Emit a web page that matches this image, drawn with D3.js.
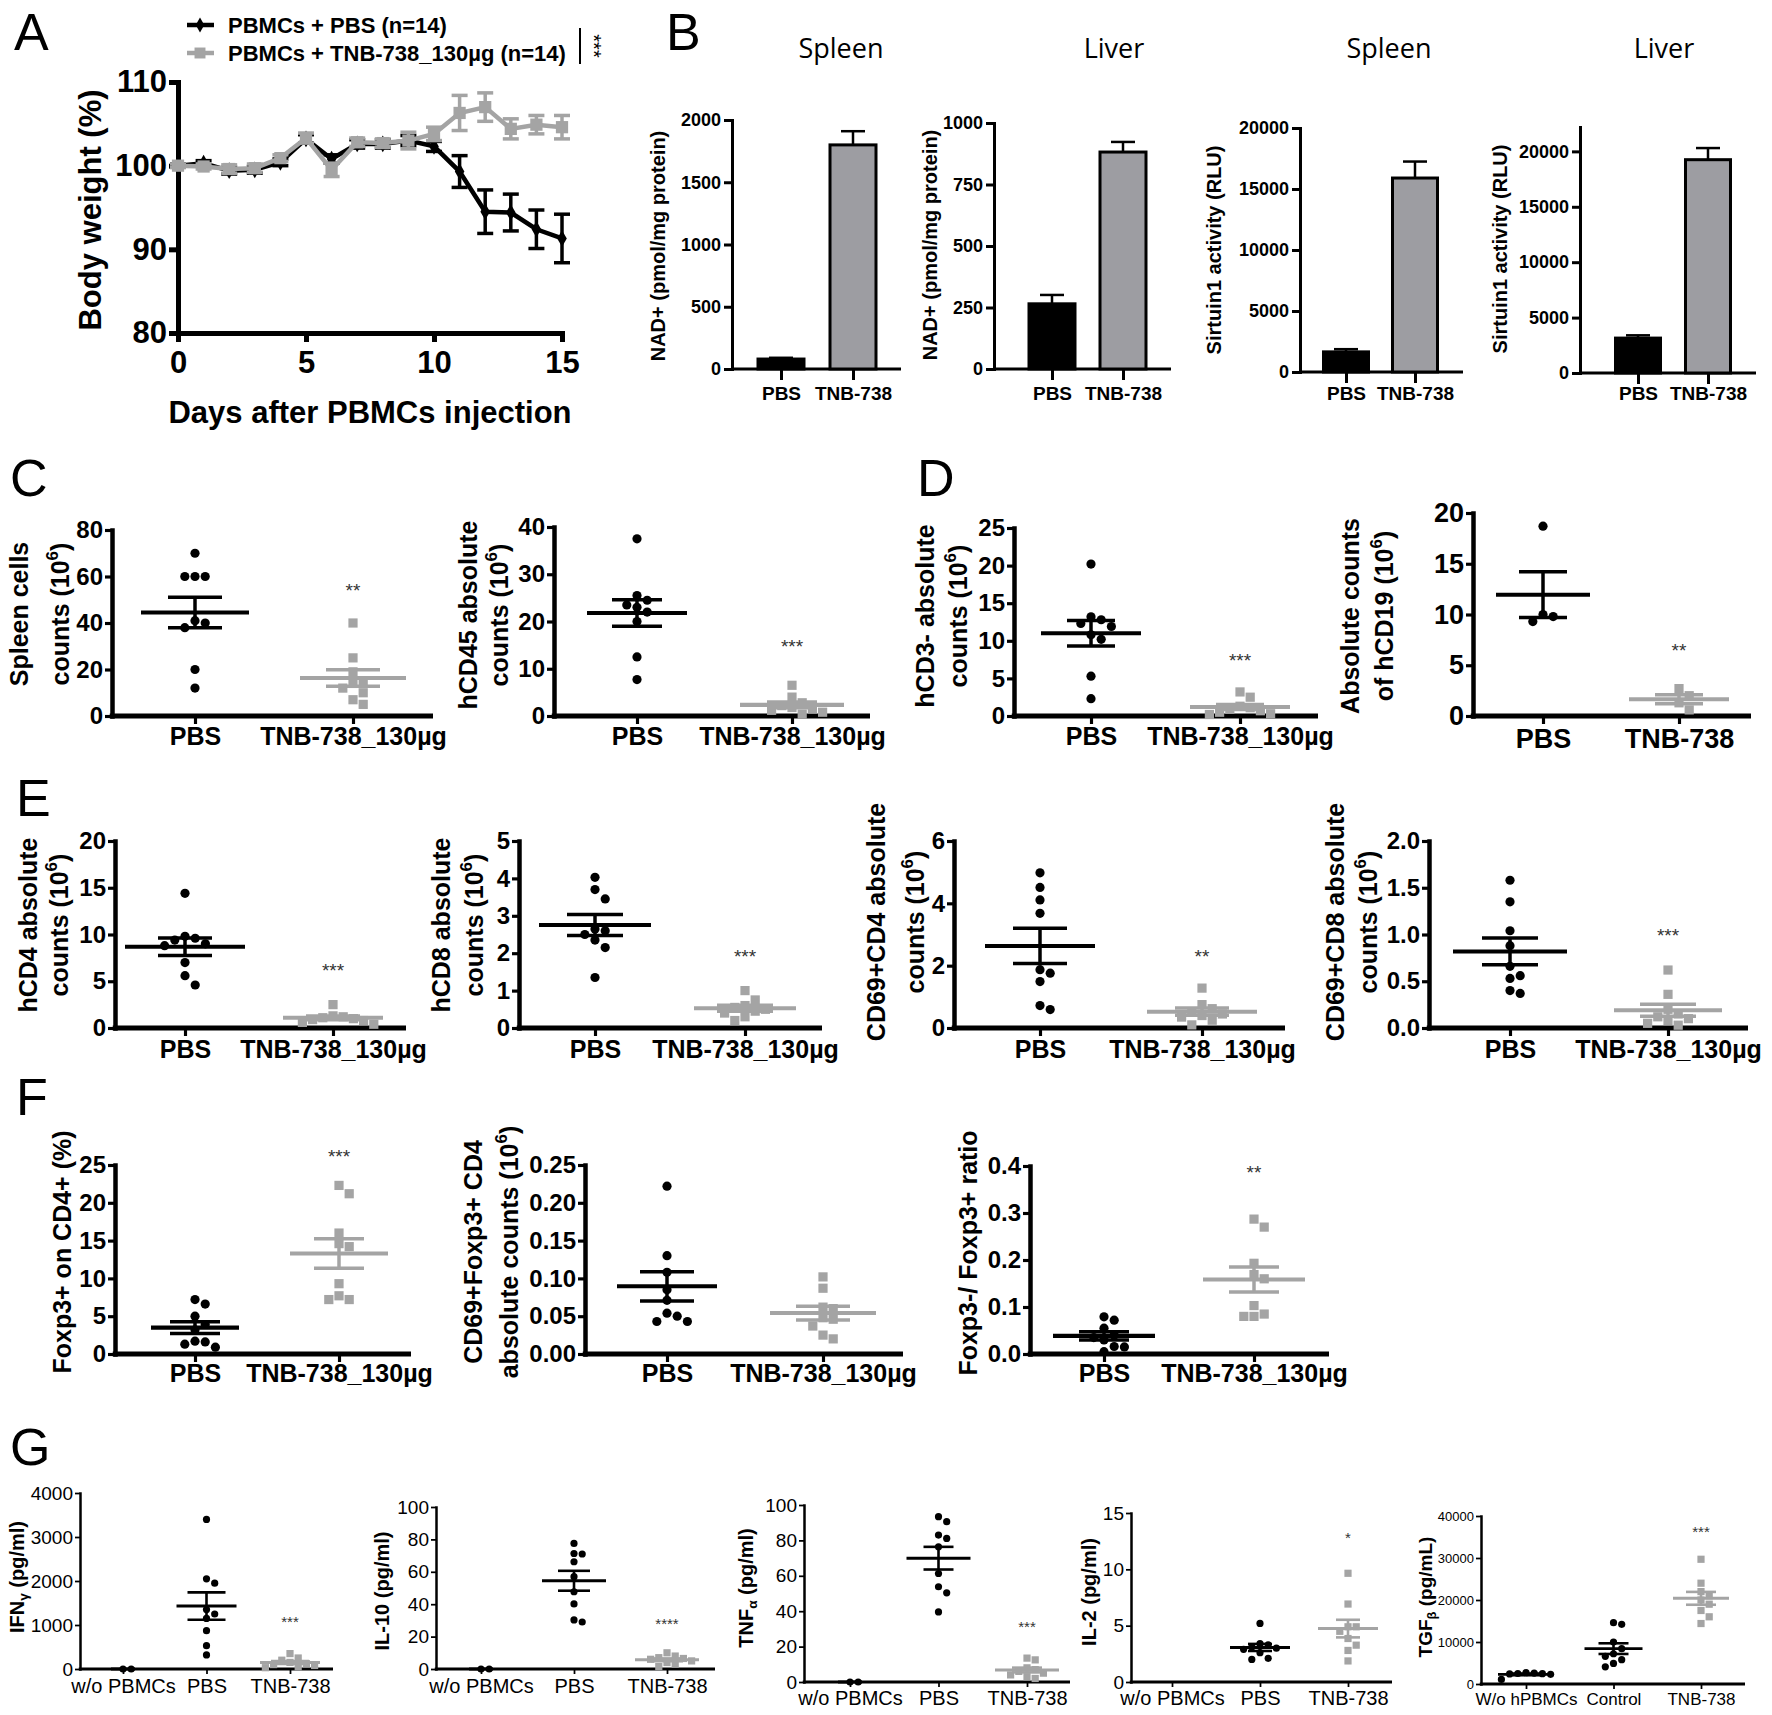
<!DOCTYPE html>
<html>
<head>
<meta charset="utf-8">
<script src="https://cdn.jsdelivr.net/npm/d3@7"></script>
<style>
  body { margin: 0; background: #fff; }
  svg { display: block; background: #fff; }
</style>
</head>
<body>
<svg id="fig" width="1772" height="1715"></svg>
<script>
// ---- A: body weight ----
const days = d3.range(0, 16);
const pbsWeight = [100, 100.3, 99.4, 99.5, 100.4, 103.2, 100.8, 102.6, 102.6, 103.0, 102.3, 99.3, 94.5, 94.4, 92.4, 91.3];
const pbsWeightSem = [0.2, 0.3, 0.4, 0.4, 0.4, 0.5, 0.5, 0.5, 0.5, 0.6, 0.6, 1.9, 2.6, 2.2, 2.3, 2.9];
const tnbWeight = [100, 99.9, 99.6, 99.7, 100.9, 103.3, 99.5, 102.8, 102.7, 103.0, 103.8, 106.3, 107.0, 104.4, 104.9, 104.6];
const tnbWeightSem = [0.2, 0.3, 0.5, 0.5, 0.4, 0.6, 0.8, 0.5, 0.5, 1.0, 0.8, 2.1, 1.7, 1.2, 1.1, 1.4];
const legendA = ['PBMCs + PBS (n=14)', 'PBMCs + TNB-738_130\u00b5g (n=14)'];

// ---- B: bars ----
const barGroups = ['PBS', 'TNB-738'];
const nadSpleen = [80, 1800], nadSpleenSem = [10, 110];
const nadLiver = [265, 882], nadLiverSem = [36, 41];
const sirtSpleen = [1650, 15900], sirtSpleenSem = [220, 1350];
const sirtLiver = [3150, 19250], sirtLiverSem = [250, 1050];

// ---- C-F: scatter groups ----
const twoGroups = ['PBS', 'TNB-738_130\u00b5g'];
const spleenPBS = [70, 60, 60, 60, 41, 40, 38, 20, 12];
const spleenTNB = [40, 25, 19, 15, 14, 12, 10, 7, 5];
const cd45PBS = [37.5, 25.5, 24.5, 23.5, 23, 22, 20, 12.5, 7.7];
const cd45TNB = [6.5, 4, 2.8, 2.2, 1.8, 1.5, 1.2, 0.8, 0.4];
const cd3negPBS = [20.2, 13.2, 12.8, 12.3, 11.9, 10.8, 10.2, 5.3, 2.3];
const cd3negTNB = [3.2, 2.5, 1.3, 1.1, 0.9, 0.7, 0.5, 0.3, 0.2];
const cd19PBS = [18.7, 10, 9.8, 9.3];
const cd19TNB = [2.7, 2.0, 1.3, 0.6];
const cd4PBS = [14.4, 9.8, 9.6, 9.4, 9.0, 8.8, 7.0, 5.6, 4.6];
const cd4TNB = [2.5, 1.3, 1.2, 1.1, 1.0, 0.9, 0.8, 0.6, 0.4];
const cd8PBS = [4.03, 3.7, 3.45, 2.65, 2.6, 2.5, 2.35, 2.15, 1.35];
const cd8TNB = [1.0, 0.75, 0.6, 0.55, 0.5, 0.45, 0.4, 0.3, 0.2];
const cd69cd4PBS = [4.98, 4.51, 4.11, 3.68, 1.87, 1.76, 1.49, 0.72, 0.59];
const cd69cd4TNB = [1.28, 0.75, 0.62, 0.52, 0.45, 0.4, 0.35, 0.25, 0.1];
const cd69cd8PBS = [1.58, 1.35, 1.04, 0.88, 0.66, 0.56, 0.53, 0.40, 0.37];
const cd69cd8TNB = [0.62, 0.36, 0.2, 0.15, 0.12, 0.1, 0.08, 0.05, 0.03];
const foxp3PBS = [7.2, 6.6, 5.0, 3.9, 3.2, 1.7, 1.6, 1.3, 0.9];
const foxp3TNB = [22.3, 21.2, 16, 14.6, 14.2, 9.3, 7.7, 7.2, 7.2];
const tregPBS = [0.222, 0.13, 0.108, 0.085, 0.071, 0.054, 0.05, 0.043, 0.043];
const tregTNB = [0.102, 0.087, 0.062, 0.06, 0.046, 0.048, 0.037, 0.025, 0.02];
const ratioPBS = [0.079, 0.072, 0.055, 0.04, 0.035, 0.03, 0.016, 0.015, 0.005];
const ratioTNB = [0.287, 0.27, 0.193, 0.169, 0.16, 0.103, 0.085, 0.08, 0.08];

// ---- G: cytokines ----
const threeGroups = ['w/o PBMCs', 'PBS', 'TNB-738'];
const tgfGroups = ['W/o hPBMCs', 'Control', 'TNB-738'];
const ifngNone = [0, 0];
const ifngPBS = [3400, 2050, 1950, 1350, 1250, 1150, 870, 530, 320];
const ifngTNB = [350, 250, 200, 150, 120, 100, 80, 50, 30];
const il10None = [0, 0];
const il10PBS = [77.5, 71.3, 71, 66.2, 57, 47.7, 40.2, 30.3, 29];
const il10TNB = [10, 8, 7, 6.5, 6, 5, 4, 3, 1.5];
const tnfNone = [0, 0];
const tnfPBS = [93.4, 90.6, 83, 81.1, 76.4, 61.3, 53.8, 50.4, 39.6];
const tnfTNB = [13.5, 12.5, 8, 7, 6, 5, 4, 3, 2];
const il2None = [];
const il2PBS = [5.2, 3.4, 3.3, 3.1, 3.0, 2.9, 2.6, 2.1, 2.0];
const il2TNB = [9.65, 6.92, 4.9, 4.9, 4.5, 3.86, 3.27, 2.8, 1.87];
const tgfNone = [2700, 2600, 2500, 2450, 2400, 2300, 1100];
const tgfControl = [14600, 14200, 10000, 8400, 7200, 6600, 5800, 4900, 4100];
const tgfTNB = [29700, 24000, 22000, 21000, 20000, 19000, 17500, 16000, 14400];

const svg = d3.select('#fig');
const FONT = '"Liberation Sans", Arial, Helvetica, sans-serif';
const GRAY = '#a4a4a4';
const BARGRAY = '#9d9da2';

// text with ^x superscript and _x subscript markers
function richText(t, str, size) {
  let back = 0;
  str.split(/([\^_].)/).forEach(p => {
    if (!p) return;
    if (p[0] === '^' || p[0] === '_') {
      const d = p[0] === '^' ? -0.42 * size : 0.22 * size;
      t.append('tspan').attr('dy', d).attr('font-size', size * 0.68).text(p[1]);
      back = -d;
    } else {
      const s = t.append('tspan').text(p);
      if (back) s.attr('dy', back);
      back = 0;
    }
  });
}

function vLabel(g, cx, cy, str, size, weight) {
  const t = g.append('text')
    .attr('transform', `translate(${cx + 0.35 * size},${cy}) rotate(-90)`)
    .attr('text-anchor', 'middle')
    .attr('font-family', FONT)
    .attr('font-size', size)
    .attr('font-weight', weight || 'bold');
  richText(t, str, size);
}

function styleAxis(a, width, size, weight) {
  a.attr('font-family', FONT).attr('font-size', size).attr('font-weight', weight);
  a.selectAll('path, line').attr('stroke', '#000').attr('stroke-width', width);
  a.select('.domain').attr('stroke-linecap', 'square');
  a.selectAll('text').attr('fill', '#000');
}

// panel letters
[['A', 14, 50], ['B', 666, 50], ['C', 10, 496], ['D', 917, 496], ['E', 16, 816], ['F', 16, 1115], ['G', 10, 1465]]
  .forEach(([l, x, y]) => svg.append('text').attr('x', x).attr('y', y)
    .attr('font-family', FONT).attr('font-size', 52).text(l));

// ---------------- Panel A ----------------
function weightChart() {
  const g = svg.append('g');
  const x = d3.scaleLinear().domain([0, 15]).range([178, 562]);
  const y = d3.scaleLinear().domain([80, 110]).range([333, 82]);

  const ax = g.append('g').attr('transform', 'translate(0,333)')
    .call(d3.axisBottom(x).tickValues([0, 5, 10, 15]).tickSize(9).tickSizeOuter(0));
  const ay = g.append('g').attr('transform', 'translate(178,0)')
    .call(d3.axisLeft(y).tickValues([80, 90, 100, 110]).tickSize(9).tickPadding(2).tickSizeOuter(0));
  styleAxis(ax, 5, 31, 'bold');
  styleAxis(ay, 5, 31, 'bold');
  ax.selectAll('text').attr('y', 40).attr('dy', null);

  const series = [
    { mean: pbsWeight, sem: pbsWeightSem, color: '#000', shape: d3.symbolDiamond, size: 80 },
    { mean: tnbWeight, sem: tnbWeightSem, color: GRAY, shape: d3.symbolSquare, size: 150 }
  ];
  series.forEach(s => {
    const pts = days.map((d, i) => ({ d, m: s.mean[i], e: s.sem[i] }));
    g.append('path').datum(pts)
      .attr('d', d3.line().x(p => x(p.d)).y(p => y(p.m)))
      .attr('fill', 'none').attr('stroke', s.color).attr('stroke-width', 4.5);
    const eb = g.append('g').attr('stroke', s.color).attr('stroke-width', 3.5);
    pts.forEach(p => {
      const cx = x(p.d), lo = y(p.m - p.e), hi = y(p.m + p.e);
      eb.append('line').attr('x1', cx).attr('x2', cx).attr('y1', lo).attr('y2', hi);
      [lo, hi].forEach(yy => eb.append('line').attr('x1', cx - 8).attr('x2', cx + 8).attr('y1', yy).attr('y2', yy));
    });
    g.append('g').selectAll('path').data(pts).join('path')
      .attr('transform', p => `translate(${x(p.d)},${y(p.m)})`)
      .attr('d', d3.symbol(s.shape, s.size)())
      .attr('fill', s.color);
  });

  // legend
  const lg = g.append('g');
  series.forEach((s, i) => {
    const ly = 25 + i * 28;
    lg.append('line').attr('x1', 187).attr('x2', 214).attr('y1', ly).attr('y2', ly)
      .attr('stroke', s.color).attr('stroke-width', 4.5);
    lg.append('path').attr('transform', `translate(200,${ly})`)
      .attr('d', d3.symbol(s.shape, s.size * 0.8)()).attr('fill', s.color);
    lg.append('text').attr('x', 228).attr('y', ly + 8)
      .attr('font-family', FONT).attr('font-size', 22).attr('font-weight', 'bold')
      .text(legendA[i]);
  });
  lg.append('line').attr('x1', 580).attr('x2', 580).attr('y1', 28).attr('y2', 64)
    .attr('stroke', '#000').attr('stroke-width', 2);
  lg.append('text').attr('transform', 'translate(587,46) rotate(90)')
    .attr('text-anchor', 'middle').attr('font-family', FONT).attr('font-size', 20).text('***');

  vLabel(g, 90, 210, 'Body weight (%)', 31, 'bold');
  g.append('text').attr('x', 370).attr('y', 423).attr('text-anchor', 'middle')
    .attr('font-family', FONT).attr('font-size', 31).attr('font-weight', 'bold')
    .text('Days after PBMCs injection');
}

// ---------------- Panel B ----------------
function barChart(c) {
  const g = svg.append('g');
  const y = d3.scaleLinear().domain(c.domain).range([c.y0, c.yTop]);
  const x = d3.scalePoint().domain(barGroups).range(c.xs);

  const ay = g.append('g').attr('transform', `translate(${c.x0},0)`)
    .call(d3.axisLeft(y).tickValues(c.ticks).tickFormat(d3.format('d'))
      .tickSize(8).tickPadding(3).tickSizeOuter(0));
  styleAxis(ay, 3, 18, 'bold');
  const ax = g.append('g').attr('transform', `translate(0,${c.y0})`)
    .call(d3.axisBottom(x).tickSize(11).tickSizeOuter(0));
  ax.select('.domain').remove();
  styleAxis(ax, 3, 19, 'bold');
  ax.selectAll('text').attr('y', 400 - c.y0).attr('dy', null);
  g.append('line').attr('x1', c.x0).attr('x2', c.xEnd).attr('y1', c.y0).attr('y2', c.y0)
    .attr('stroke', '#000').attr('stroke-width', 3);

  barGroups.forEach((k, i) => {
    const cx = x(k), v = c.values[i], e = c.sems[i];
    g.append('line').attr('x1', cx).attr('x2', cx).attr('y1', y(v)).attr('y2', y(v + e))
      .attr('stroke', '#000').attr('stroke-width', 2.5);
    g.append('line').attr('x1', cx - 12).attr('x2', cx + 12).attr('y1', y(v + e)).attr('y2', y(v + e))
      .attr('stroke', '#000').attr('stroke-width', 2.5);
    g.append('rect').attr('x', cx - c.barW / 2).attr('width', c.barW)
      .attr('y', y(v)).attr('height', c.y0 - y(v))
      .attr('fill', i === 0 ? '#000' : BARGRAY).attr('stroke', '#000').attr('stroke-width', 3);
  });

  vLabel(g, c.labX, c.labY, c.ylabel, 20, 'bold');
  g.append('text').attr('x', c.titleX).attr('y', 58).attr('text-anchor', 'middle')
    .attr('font-family', '"Open Sans", "Liberation Sans", sans-serif').attr('font-size', 27)
    .text(c.title);
}

// ---------------- Scatter (C-G) ----------------
function swarm(vals, y, cx, d) {
  const placed = [];
  vals.slice().sort((a, b) => b - a).forEach(v => {
    const py = y(v);
    for (let k = 0; ; k++) {
      const off = Math.ceil(k / 2) * (k % 2 ? 1 : -1) * d;
      if (!placed.some(q => Math.abs(q.x - cx - off) < d - 0.1 && Math.abs(q.y - py) < d - 0.1)) {
        placed.push({ x: cx + off, y: py, v });
        break;
      }
    }
  });
  return placed;
}

function dotChart(c) {
  const g = svg.append('g');
  const tickFont = c.tickFont || 24, labFont = c.labFont || 25;
  const axisW = c.axisW || 4.5, weight = c.weight || 'bold';
  const y = d3.scaleLinear().domain(c.domain).range([c.y0, c.yTop]);
  const x = d3.scalePoint().domain(c.cats).range(c.xs);
  const colors = c.colors || ['#000', GRAY];

  const ay = g.append('g').attr('transform', `translate(${c.x0},0)`)
    .call(d3.axisLeft(y).tickValues(c.ticks).tickFormat(d3.format(c.fmt || 'd'))
      .tickSize(c.tickLen || 7).tickPadding(c.pad === undefined ? 2 : c.pad).tickSizeOuter(0));
  styleAxis(ay, axisW, tickFont, weight);
  ay.selectAll('.tick line').attr('stroke-width', axisW * 0.7);
  const ax = g.append('g').attr('transform', `translate(0,${c.y0})`)
    .call(d3.axisBottom(x).tickSize(c.tickLen || 8).tickSizeOuter(0));
  ax.select('.domain').remove();
  styleAxis(ax, axisW * 0.7, labFont, weight);
  ax.selectAll('text').attr('y', c.labelY - c.y0).attr('dy', null);
  g.append('line').attr('x1', c.x0 - axisW / 2).attr('x2', c.xEnd).attr('y1', c.y0).attr('y2', c.y0)
    .attr('stroke', '#000').attr('stroke-width', axisW * 1.15);

  const r = c.r || 4.6;
  c.data.forEach((vals, i) => {
    if (!vals.length) return;
    const cx = x(c.cats[i]), col = colors[i];
    const pts = swarm(vals, y, cx, 2 * r + 1);
    if (col === '#000') {
      g.append('g').selectAll('circle').data(pts).join('circle')
        .attr('cx', p => p.x).attr('cy', p => p.y).attr('r', r).attr('fill', col);
    } else {
      g.append('g').selectAll('rect').data(pts).join('rect')
        .attr('x', p => p.x - r).attr('y', p => p.y - r)
        .attr('width', 2 * r).attr('height', 2 * r).attr('fill', col);
    }
    const m = d3.mean(vals);
    const sem = vals.length > 1 ? d3.deviation(vals) / Math.sqrt(vals.length) : 0;
    const mh = c.meanHalf[i], ch = c.capHalf, lw = c.lineW || 3.5;
    const lg = g.append('g').attr('stroke', col).attr('stroke-width', lw);
    lg.append('line').attr('x1', cx - mh).attr('x2', cx + mh).attr('y1', y(m)).attr('y2', y(m))
      .attr('stroke-width', lw * 1.15);
    if (sem > 0) {
      lg.append('line').attr('x1', cx).attr('x2', cx).attr('y1', y(m - sem)).attr('y2', y(m + sem));
      [m - sem, m + sem].forEach(v => lg.append('line')
        .attr('x1', cx - ch).attr('x2', cx + ch).attr('y1', y(v)).attr('y2', y(v)));
    }
  });

  if (c.stars) {
    g.append('text').attr('x', x(c.cats[c.cats.length - 1])).attr('y', c.starY)
      .attr('text-anchor', 'middle').attr('font-family', FONT)
      .attr('font-size', c.starFont || 19).attr('fill', '#333').text(c.stars);
  }
  c.ylab.forEach((s, i) => vLabel(g, c.ylabX[i], c.ylabY, s, c.ylabFont || 25, 'bold'));
}

weightChart();

barChart({ x0: 732, xEnd: 901, yTop: 120, y0: 369, domain: [0, 2000], ticks: [0, 500, 1000, 1500, 2000],
  xs: [781, 853], barW: 46, values: nadSpleen, sems: nadSpleenSem,
  ylabel: 'NAD+ (pmol/mg protein)', labX: 658, labY: 246, title: 'Spleen', titleX: 841 });
barChart({ x0: 994, xEnd: 1171, yTop: 123, y0: 369, domain: [0, 1000], ticks: [0, 250, 500, 750, 1000],
  xs: [1052, 1123], barW: 46, values: nadLiver, sems: nadLiverSem,
  ylabel: 'NAD+ (pmol/mg protein)', labX: 930, labY: 245, title: 'Liver', titleX: 1114 });
barChart({ x0: 1300, xEnd: 1463, yTop: 128, y0: 372, domain: [0, 20000], ticks: [0, 5000, 10000, 15000, 20000],
  xs: [1346, 1415], barW: 45, values: sirtSpleen, sems: sirtSpleenSem,
  ylabel: 'Sirtuin1 activity (RLU)', labX: 1214, labY: 250, title: 'Spleen', titleX: 1389 });
barChart({ x0: 1580, xEnd: 1756, yTop: 127, y0: 373, domain: [0, 22200], ticks: [0, 5000, 10000, 15000, 20000],
  xs: [1638, 1708], barW: 45, values: sirtLiver, sems: sirtLiverSem,
  ylabel: 'Sirtuin1 activity (RLU)', labX: 1500, labY: 249, title: 'Liver', titleX: 1664 });

// C
dotChart({ x0: 112, xEnd: 433, yTop: 530, y0: 716, domain: [0, 80], ticks: [0, 20, 40, 60, 80],
  cats: twoGroups, xs: [195, 353], data: [spleenPBS, spleenTNB], meanHalf: [54, 53], capHalf: 27,
  ylab: ['Spleen cells', 'counts (10^6)'], ylabX: [19, 60], ylabY: 614, stars: '**', starY: 597, labelY: 745 });
dotChart({ x0: 554, xEnd: 870, yTop: 527, y0: 716, domain: [0, 40], ticks: [0, 10, 20, 30, 40],
  cats: twoGroups, xs: [637, 792], data: [cd45PBS, cd45TNB], meanHalf: [50, 52], capHalf: 25,
  ylab: ['hCD45 absolute', 'counts (10^6)'], ylabX: [468, 499], ylabY: 615, stars: '***', starY: 653, labelY: 745 });
// D
dotChart({ x0: 1014, xEnd: 1318, yTop: 528, y0: 716, domain: [0, 25], ticks: [0, 5, 10, 15, 20, 25],
  cats: twoGroups, xs: [1091, 1240], data: [cd3negPBS, cd3negTNB], meanHalf: [50, 50], capHalf: 24,
  ylab: ['hCD3- absolute', 'counts (10^6)'], ylabX: [925, 958], ylabY: 616, stars: '***', starY: 667, labelY: 745 });
dotChart({ x0: 1473, xEnd: 1751, yTop: 513, y0: 716, domain: [0, 20], ticks: [0, 5, 10, 15, 20],
  cats: barGroups, xs: [1543, 1679], data: [cd19PBS, cd19TNB], meanHalf: [47, 50], capHalf: 24,
  tickFont: 27, labFont: 27,
  ylab: ['Absolute counts', 'of hCD19 (10^6)'], ylabX: [1350, 1384], ylabY: 616, stars: '**', starY: 657, labelY: 748 });
// E
dotChart({ x0: 115, xEnd: 406, yTop: 841, y0: 1028, domain: [0, 20], ticks: [0, 5, 10, 15, 20],
  cats: twoGroups, xs: [185, 333], data: [cd4PBS, cd4TNB], meanHalf: [60, 50], capHalf: 27,
  ylab: ['hCD4 absolute', 'counts (10^6)'], ylabX: [28, 59], ylabY: 925, stars: '***', starY: 977, labelY: 1058 });
dotChart({ x0: 519, xEnd: 822, yTop: 841, y0: 1028, domain: [0, 5], ticks: [0, 1, 2, 3, 4, 5],
  cats: twoGroups, xs: [595, 745], data: [cd8PBS, cd8TNB], meanHalf: [56, 51], capHalf: 28,
  ylab: ['hCD8 absolute', 'counts (10^6)'], ylabX: [441, 474], ylabY: 925, stars: '***', starY: 963, labelY: 1058 });
dotChart({ x0: 954, xEnd: 1285, yTop: 841, y0: 1028, domain: [0, 6], ticks: [0, 2, 4, 6],
  cats: twoGroups, xs: [1040, 1202], data: [cd69cd4PBS, cd69cd4TNB], meanHalf: [55, 55], capHalf: 27,
  ylab: ['CD69+CD4 absolute', 'counts (10^6)'], ylabX: [876, 915], ylabY: 922, stars: '**', starY: 963, labelY: 1058 });
dotChart({ x0: 1429, xEnd: 1748, yTop: 841, y0: 1028, domain: [0, 2], ticks: [0, 0.5, 1, 1.5, 2], fmt: '.1f',
  cats: twoGroups, xs: [1510, 1668], data: [cd69cd8PBS, cd69cd8TNB], meanHalf: [57, 54], capHalf: 28,
  ylab: ['CD69+CD8 absolute', 'counts (10^6)'], ylabX: [1335, 1368], ylabY: 922, stars: '***', starY: 942, labelY: 1058 });
// F
dotChart({ x0: 115, xEnd: 411, yTop: 1165, y0: 1354, domain: [0, 25], ticks: [0, 5, 10, 15, 20, 25],
  cats: twoGroups, xs: [195, 339], data: [foxp3PBS, foxp3TNB], meanHalf: [44, 49], capHalf: 25,
  ylab: ['Foxp3+ on CD4+ (%)'], ylabX: [62], ylabY: 1252, stars: '***', starY: 1163, labelY: 1382 });
dotChart({ x0: 585, xEnd: 903, yTop: 1165, y0: 1354, domain: [0, 0.25], ticks: [0, 0.05, 0.1, 0.15, 0.2, 0.25], fmt: '.2f',
  cats: twoGroups, xs: [667, 823], data: [tregPBS, tregTNB], meanHalf: [50, 53], capHalf: 27,
  ylab: ['CD69+Foxp3+ CD4', 'absolute counts (10^6)'], ylabX: [473, 509], ylabY: 1252, labelY: 1382 });
dotChart({ x0: 1030, xEnd: 1329, yTop: 1166, y0: 1354, domain: [0, 0.4], ticks: [0, 0.1, 0.2, 0.3, 0.4], fmt: '.1f',
  cats: twoGroups, xs: [1104, 1254], data: [ratioPBS, ratioTNB], meanHalf: [51, 51], capHalf: 25,
  ylab: ['Foxp3-/ Foxp3+ ratio'], ylabX: [968], ylabY: 1253, stars: '**', starY: 1179, labelY: 1382 });
// G
const gStyle = { tickFont: 19, labFont: 20, weight: 'normal', axisW: 2.5, tickLen: 5, r: 3.6, lineW: 2.6,
  ylabFont: 20, starFont: 15, colors: ['#000', '#000', GRAY] };
dotChart(Object.assign({}, gStyle, { x0: 80, xEnd: 333, yTop: 1493, y0: 1669, domain: [0, 4000],
  ticks: [0, 1000, 2000, 3000, 4000], cats: threeGroups, xs: [123, 290], data: [ifngNone, ifngPBS, ifngTNB],
  meanHalf: [12, 30, 30], capHalf: 19, ylab: ['IFN_\u03b3 (pg/ml)'], ylabX: [17], ylabY: 1577,
  stars: '***', starY: 1627, labelY: 1693 }));
dotChart(Object.assign({}, gStyle, { x0: 436, xEnd: 715, yTop: 1507, y0: 1669, domain: [0, 100],
  ticks: [0, 20, 40, 60, 80, 100], cats: threeGroups, xs: [481, 667], data: [il10None, il10PBS, il10TNB],
  meanHalf: [12, 32, 32], capHalf: 16, ylab: ['IL-10 (pg/ml)'], ylabX: [382], ylabY: 1591,
  stars: '****', starY: 1629, labelY: 1693 }));
dotChart(Object.assign({}, gStyle, { x0: 804, xEnd: 1070, yTop: 1505, y0: 1682, domain: [0, 100],
  ticks: [0, 20, 40, 60, 80, 100], cats: threeGroups, xs: [850, 1027], data: [tnfNone, tnfPBS, tnfTNB],
  meanHalf: [12, 32, 32], capHalf: 15, ylab: ['TNF_\u03b1 (pg/ml)'], ylabX: [746], ylabY: 1588,
  stars: '***', starY: 1632, labelY: 1705 }));
dotChart(Object.assign({}, gStyle, { x0: 1131, xEnd: 1392, yTop: 1513, y0: 1682, domain: [0, 15],
  ticks: [0, 5, 10, 15], cats: threeGroups, xs: [1172, 1348], data: [il2None, il2PBS, il2TNB],
  meanHalf: [0, 30, 30], capHalf: 12, ylab: ['IL-2 (pg/ml)'], ylabX: [1089], ylabY: 1592,
  stars: '*', starY: 1543, labelY: 1705 }));
dotChart(Object.assign({}, gStyle, { x0: 1481, xEnd: 1745, yTop: 1516, y0: 1684, domain: [0, 40000],
  ticks: [0, 10000, 20000, 30000, 40000], cats: tgfGroups, xs: [1526, 1701], data: [tgfNone, tgfControl, tgfTNB],
  meanHalf: [28, 29, 28], capHalf: 15, tickFont: 13, labFont: 17, ylabFont: 19,
  ylab: ['TGF_\u03b2 (pg/mL)'], ylabX: [1425], ylabY: 1597, stars: '***', starY: 1537, labelY: 1705 }));
</script>
</body>
</html>
